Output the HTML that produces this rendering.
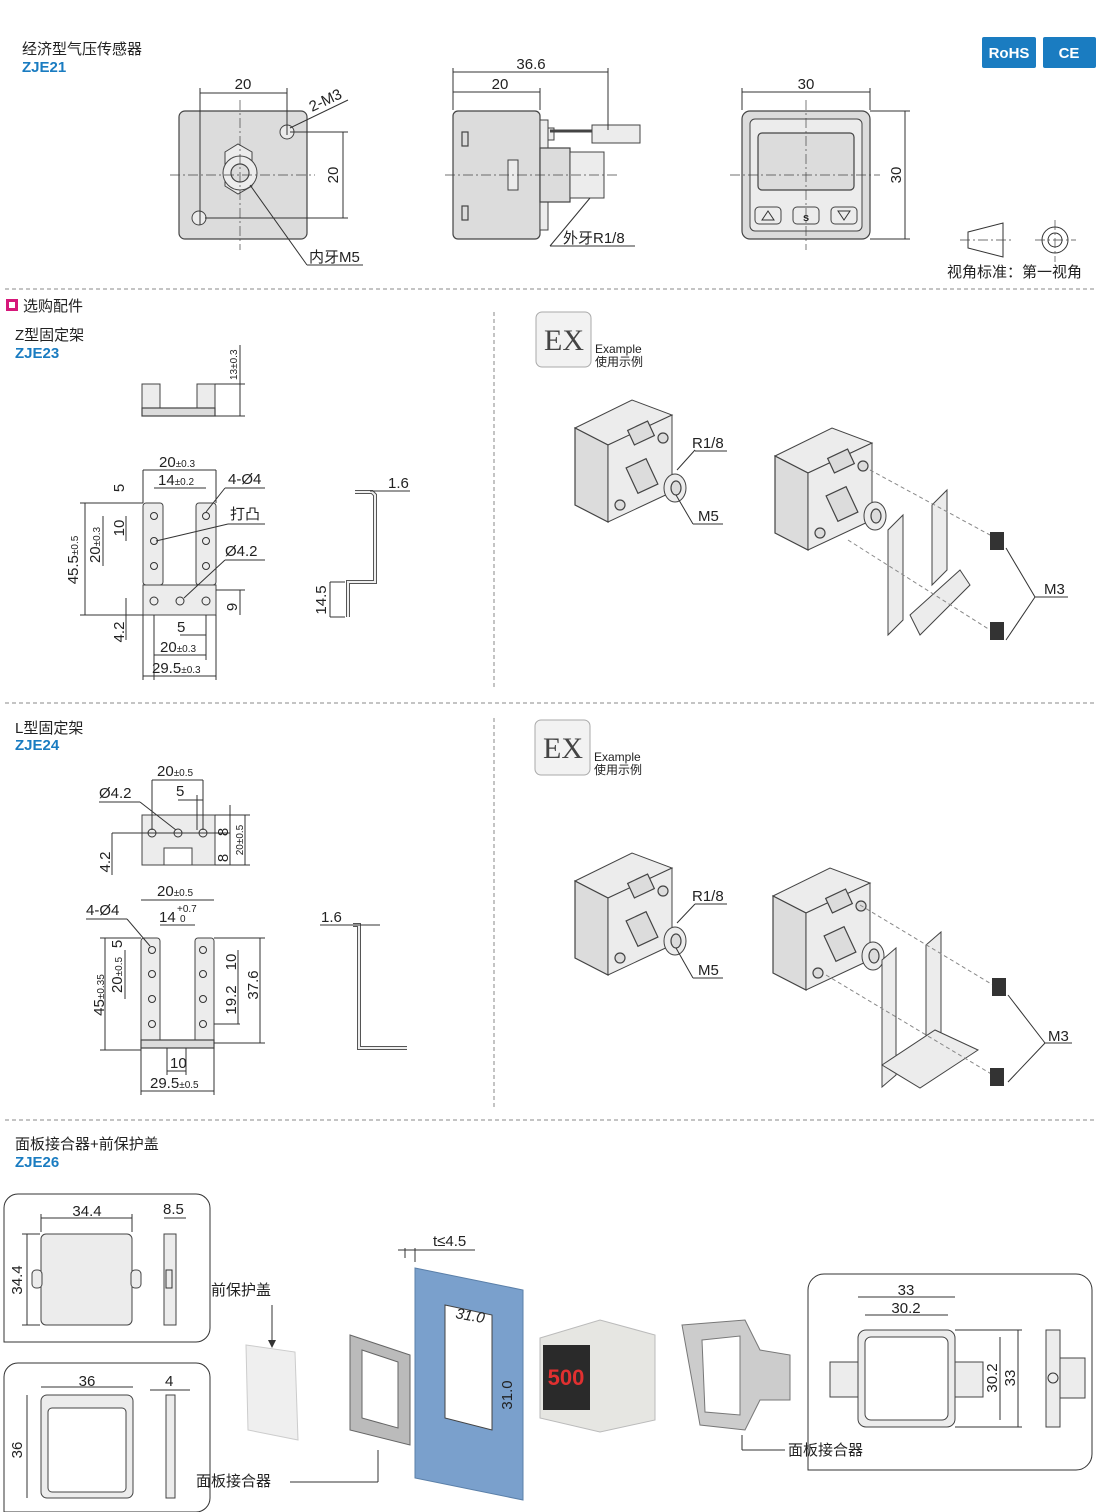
<!DOCTYPE html>
<html><head><meta charset="utf-8"><style>
html,body{margin:0;padding:0;background:#fff}
svg{display:block}
text{font-family:"Liberation Sans","Noto Sans CJK SC",sans-serif;fill:#222}
.t{font-size:15px}.s{font-size:10px}.b{fill:#1a7cc1;font-weight:bold;font-size:15px}
.l{stroke:#333;stroke-width:1;fill:none}
.c{stroke:#444;stroke-width:.7;fill:none;stroke-dasharray:10 3 2 3}
.d{stroke:#888;stroke-width:1;fill:none;stroke-dasharray:4 3}
.g{fill:#dcdcdc;stroke:#444;stroke-width:1.2}
.g2{fill:#ececec;stroke:#444;stroke-width:1}
</style></head><body>
<svg width="1110" height="1512" viewBox="0 0 1110 1512" xmlns="http://www.w3.org/2000/svg">
<defs>
<g id="dev">
<polygon class="g2" points="0,28 57,0 97,15 33,45"/>
<polygon class="g" points="0,28 33,45 33,122 0,105"/>
<polygon class="g2" points="33,45 97,15 97,92 33,122"/>
<rect x="56" y="62" width="22" height="28" class="g" transform="rotate(-25 67 76)"/>
<ellipse cx="100" cy="88" rx="11" ry="14" class="g2"/>
<ellipse cx="101" cy="88" rx="5" ry="7" class="g"/>
<circle cx="88" cy="38" r="5" class="g"/><circle cx="45" cy="105" r="5" class="g"/>
<rect x="55" y="25" width="22" height="16" class="g" transform="rotate(-25 66 33)"/>
</g>
</defs>

<!-- header -->
<text x="22" y="54" class="t">经济型气压传感器</text>
<text x="22" y="72" class="b">ZJE21</text>
<rect x="982" y="37" width="54" height="31" fill="#1a7cc1" rx="2"/><text x="1009" y="58" text-anchor="middle" style="fill:#fff;font-weight:bold;font-size:15px">RoHS</text>
<rect x="1043" y="37" width="53" height="31" fill="#1a7cc1" rx="2"/><text x="1069" y="58" text-anchor="middle" style="fill:#fff;font-weight:bold;font-size:15px">CE</text>

<!-- view 1 -->
<rect x="179" y="111" width="128" height="128" rx="6" class="g"/>
<polygon points="225,155 238,147 252,155 252,189 238,197 225,189" transform="translate(0,-3)" class="g2"/>
<circle cx="240" cy="173" r="17" class="g2"/><circle cx="240" cy="173" r="9" class="g"/>
<circle cx="287" cy="132" r="7" class="g2"/><circle cx="199" cy="218" r="7" class="g2"/>
<line x1="170" y1="175" x2="315" y2="175" class="c"/><line x1="240" y1="100" x2="240" y2="250" class="c"/>
<line x1="200" y1="88" x2="200" y2="225" class="l"/><line x1="287" y1="88" x2="287" y2="135" class="l"/>
<line x1="200" y1="93" x2="287" y2="93" class="l"/><text x="243" y="89" text-anchor="middle" class="t">20</text>
<line x1="290" y1="132" x2="348" y2="132" class="l"/><line x1="205" y1="218" x2="348" y2="218" class="l"/>
<line x1="343" y1="132" x2="343" y2="218" class="l"/><text x="338" y="175" class="t" transform="rotate(-90 338 175)" text-anchor="middle">20</text>
<line x1="290" y1="128" x2="348" y2="100" class="l"/><text x="312" y="112" class="t" transform="rotate(-25 312 112)">2-M3</text>
<line x1="250" y1="185" x2="307" y2="265" class="l"/><line x1="307" y1="265" x2="363" y2="265" class="l"/><text x="309" y="262" class="t">内牙M5</text>

<!-- view 2 -->
<rect x="453" y="111" width="87" height="128" rx="5" class="g"/>
<rect x="540" y="120" width="8" height="110" class="g2"/>
<rect x="548" y="128" width="6" height="12" class="g2"/>
<rect x="540" y="148" width="30" height="54" class="g"/>
<rect x="570" y="152" width="34" height="46" class="g2"/>
<line x1="550" y1="131" x2="592" y2="131" stroke="#444" stroke-width="3"/>
<rect x="592" y="125" width="48" height="18" class="g2"/>
<rect x="508" y="160" width="10" height="30" class="g2"/>
<rect x="462" y="132" width="6" height="14" class="g"/><rect x="462" y="206" width="6" height="14" class="g"/>
<line x1="445" y1="175" x2="620" y2="175" class="c"/>
<line x1="453" y1="68" x2="453" y2="110" class="l"/><line x1="540" y1="88" x2="540" y2="110" class="l"/><line x1="608" y1="68" x2="608" y2="130" class="l"/>
<line x1="453" y1="72" x2="608" y2="72" class="l"/><text x="531" y="69" text-anchor="middle" class="t">36.6</text>
<line x1="453" y1="92" x2="540" y2="92" class="l"/><text x="500" y="89" text-anchor="middle" class="t">20</text>
<line x1="590" y1="198" x2="550" y2="246" class="l"/><line x1="550" y1="246" x2="635" y2="246" class="l"/><text x="563" y="243" class="t">外牙R1/8</text>

<!-- view 3 -->
<rect x="742" y="111" width="128" height="128" rx="8" class="g"/>
<rect x="750" y="119" width="112" height="112" rx="5" class="g2"/>
<rect x="758" y="133" width="96" height="57" rx="4" class="g"/>
<rect x="755" y="207" width="26" height="17" rx="4" class="g2"/><polygon points="762,220 768,211 774,220" class="l"/>
<rect x="793" y="207" width="26" height="17" rx="4" class="g2"/><text x="806" y="221" text-anchor="middle" style="font-size:11px;font-weight:bold">s</text>
<rect x="831" y="207" width="26" height="17" rx="4" class="g2"/><polygon points="838,211 850,211 844,220" class="l"/>
<line x1="730" y1="175" x2="880" y2="175" class="c"/><line x1="806" y1="100" x2="806" y2="250" class="c"/>
<line x1="742" y1="88" x2="742" y2="110" class="l"/><line x1="870" y1="88" x2="870" y2="110" class="l"/>
<line x1="742" y1="92" x2="870" y2="92" class="l"/><text x="806" y="89" text-anchor="middle" class="t">30</text>
<line x1="870" y1="111" x2="910" y2="111" class="l"/><line x1="870" y1="239" x2="910" y2="239" class="l"/>
<line x1="905" y1="111" x2="905" y2="239" class="l"/><text x="901" y="175" class="t" transform="rotate(-90 901 175)" text-anchor="middle">30</text>
<polygon points="968,232 1003,223 1003,257 968,248" class="l"/><line x1="960" y1="240" x2="1012" y2="240" class="c"/>
<circle cx="1055" cy="240" r="13" class="l"/><circle cx="1055" cy="240" r="7" class="l"/><line x1="1035" y1="240" x2="1076" y2="240" class="c"/><line x1="1055" y1="220" x2="1055" y2="262" class="c"/>
<text x="947" y="277" class="t">视角标准：第一视角</text>

<line x1="5" y1="289" x2="1095" y2="289" class="d"/>
<rect x="6" y="299" width="12" height="12" fill="#d6177a"/><rect x="9" y="302" width="6" height="6" fill="#fff"/>
<text x="23" y="311" class="t">选购配件</text>

<!-- Z bracket -->
<text x="15" y="340" class="t">Z型固定架</text><text x="15" y="358" class="b">ZJE23</text>
<rect x="142" y="384" width="18" height="32" class="g2"/><rect x="197" y="384" width="18" height="32" class="g2"/>
<rect x="142" y="408" width="73" height="8" class="g"/>
<line x1="215" y1="384" x2="245" y2="384" class="l"/><line x1="215" y1="416" x2="245" y2="416" class="l"/><line x1="240" y1="345" x2="240" y2="416" class="l"/>
<text x="237" y="380" class="s" transform="rotate(-90 237 380)">13±0.3</text>
<rect x="143" y="503" width="20" height="82" rx="3" class="g2"/><rect x="196" y="503" width="20" height="82" rx="3" class="g2"/>
<rect x="143" y="585" width="73" height="30" class="g2"/>
<g class="l"><circle cx="154" cy="516" r="3.5"/><circle cx="154" cy="541" r="3.5"/><circle cx="154" cy="566" r="3.5"/><circle cx="206" cy="516" r="3.5"/><circle cx="206" cy="541" r="3.5"/><circle cx="206" cy="566" r="3.5"/><circle cx="154" cy="601" r="4"/><circle cx="180" cy="601" r="4"/><circle cx="206" cy="601" r="4"/></g>
<line x1="143" y1="470" x2="143" y2="503" class="l"/><line x1="216" y1="470" x2="216" y2="503" class="l"/>
<line x1="143" y1="470" x2="216" y2="470" class="l"/><text x="159" y="467" class="t">20<tspan class="s">±0.3</tspan></text>
<line x1="154" y1="488" x2="206" y2="488" class="l"/><text x="158" y="485" class="t">14<tspan class="s">±0.2</tspan></text>
<text x="228" y="484" class="t">4-Ø4</text><text x="230" y="519" class="t">打凸</text><text x="225" y="556" class="t">Ø4.2</text>
<line x1="225" y1="488" x2="265" y2="488" class="l"/><line x1="225" y1="488" x2="206" y2="512" class="l"/>
<line x1="228" y1="524" x2="265" y2="524" class="l"/><line x1="228" y1="524" x2="156" y2="541" class="l"/>
<line x1="225" y1="560" x2="265" y2="560" class="l"/><line x1="225" y1="560" x2="184" y2="598" class="l"/>
<line x1="80" y1="503" x2="143" y2="503" class="l"/><line x1="80" y1="615" x2="143" y2="615" class="l"/>
<line x1="85" y1="503" x2="85" y2="615" class="l"/><text x="78" y="560" class="t" transform="rotate(-90 78 560)" text-anchor="middle">45.5<tspan class="s">±0.5</tspan></text>
<line x1="103" y1="516" x2="103" y2="566" class="l"/><text x="100" y="545" class="t" transform="rotate(-90 100 545)" text-anchor="middle">20<tspan class="s">±0.3</tspan></text>
<line x1="126" y1="516" x2="126" y2="541" class="l"/><text x="124" y="528" class="t" transform="rotate(-90 124 528)" text-anchor="middle">10</text>
<text x="124" y="488" class="t" transform="rotate(-90 124 488)" text-anchor="middle">5</text>
<line x1="126" y1="598" x2="126" y2="640" class="l"/><text x="124" y="632" class="t" transform="rotate(-90 124 632)" text-anchor="middle">4.2</text>
<line x1="216" y1="590" x2="245" y2="590" class="l"/><line x1="240" y1="590" x2="240" y2="615" class="l"/><text x="237" y="607" class="t" transform="rotate(-90 237 607)" text-anchor="middle">9</text>
<line x1="154" y1="615" x2="154" y2="680" class="l"/><line x1="206" y1="615" x2="206" y2="660" class="l"/><line x1="143" y1="615" x2="143" y2="680" class="l"/><line x1="216" y1="615" x2="216" y2="680" class="l"/>
<line x1="180" y1="635" x2="206" y2="635" class="l"/><text x="177" y="632" class="t">5</text>
<line x1="154" y1="655" x2="206" y2="655" class="l"/><text x="160" y="652" class="t">20<tspan class="s">±0.3</tspan></text>
<line x1="143" y1="676" x2="216" y2="676" class="l"/><text x="152" y="673" class="t">29.5<tspan class="s">±0.3</tspan></text>
<polyline points="355,492 372,492 375,495 375,582 348,582 348,617" fill="none" stroke="#555" stroke-width="4"/>
<polyline points="355,492 372,492 375,495 375,582 348,582 348,617" fill="none" stroke="#eee" stroke-width="2"/>
<line x1="370" y1="491" x2="410" y2="491" class="l"/><text x="388" y="488" class="t">1.6</text>
<line x1="330" y1="582" x2="345" y2="582" class="l"/><line x1="330" y1="617" x2="345" y2="617" class="l"/><line x1="330" y1="582" x2="330" y2="617" class="l"/>
<text x="326" y="600" class="t" transform="rotate(-90 326 600)" text-anchor="middle">14.5</text>
<line x1="494" y1="312" x2="494" y2="688" class="d"/>

<!-- EX 1 -->
<rect x="536" y="312" width="55" height="55" rx="6" fill="#f2f2f2" stroke="#aaa"/>
<text x="564" y="350" text-anchor="middle" style="font-family:'Liberation Serif',serif;font-size:30px;fill:#444">EX</text>
<text x="595" y="353" style="font-size:12px">Example</text><text x="595" y="366" style="font-size:12px">使用示例</text>
<use href="#dev" x="575" y="400"/>
<line x1="677" y1="470" x2="695" y2="450" class="l"/><line x1="695" y1="451" x2="727" y2="451" class="l"/><text x="692" y="448" class="t">R1/8</text>
<line x1="676" y1="495" x2="693" y2="524" class="l"/><line x1="693" y1="524" x2="723" y2="524" class="l"/><text x="698" y="521" class="t">M5</text>
<use href="#dev" x="775" y="428"/>
<polygon points="888,530 903,515 903,620 888,635" class="g2"/>
<polygon points="932,505 947,490 947,570 932,585" class="g2"/>
<polygon points="910,615 960,570 970,585 920,635" class="g2"/>
<line x1="870" y1="470" x2="990" y2="535" class="d"/><line x1="848" y1="540" x2="990" y2="630" class="d"/>
<rect x="990" y="532" width="14" height="18" fill="#333"/><rect x="990" y="622" width="14" height="18" fill="#333"/>
<line x1="1035" y1="597" x2="1006" y2="548" class="l"/><line x1="1035" y1="597" x2="1006" y2="640" class="l"/><line x1="1035" y1="597" x2="1068" y2="597" class="l"/><text x="1044" y="594" class="t">M3</text>

<line x1="5" y1="703" x2="1095" y2="703" class="d"/>

<!-- L bracket -->
<text x="15" y="733" class="t">L型固定架</text><text x="15" y="750" class="b">ZJE24</text>
<rect x="142" y="815" width="73" height="50" class="g2"/>
<rect x="164" y="848" width="28" height="17" fill="#fff" stroke="#444"/>
<g class="l"><circle cx="152" cy="833" r="4"/><circle cx="178" cy="833" r="4"/><circle cx="203" cy="833" r="4"/></g>
<line x1="112" y1="833" x2="230" y2="833" class="l"/>
<text x="157" y="776" class="t">20<tspan class="s">±0.5</tspan></text><line x1="152" y1="780" x2="203" y2="780" class="l"/>
<text x="176" y="796" class="t">5</text><line x1="178" y1="800" x2="203" y2="800" class="l"/>
<line x1="152" y1="780" x2="152" y2="830" class="l"/><line x1="203" y1="780" x2="203" y2="830" class="l"/><line x1="197" y1="795" x2="197" y2="830" class="l"/>
<text x="99" y="798" class="t">Ø4.2</text><line x1="99" y1="802" x2="140" y2="802" class="l"/><line x1="140" y1="802" x2="176" y2="830" class="l"/>
<line x1="215" y1="815" x2="250" y2="815" class="l"/><line x1="215" y1="865" x2="250" y2="865" class="l"/><line x1="245" y1="815" x2="245" y2="865" class="l"/><line x1="230" y1="805" x2="230" y2="865" class="l"/>
<text x="228" y="832" class="t" transform="rotate(-90 228 832)" text-anchor="middle">8</text><text x="228" y="858" class="t" transform="rotate(-90 228 858)" text-anchor="middle">8</text>
<text x="243" y="840" class="s" transform="rotate(-90 243 840)" text-anchor="middle">20±0.5</text>
<line x1="112" y1="833" x2="112" y2="875" class="l"/><text x="110" y="862" class="t" transform="rotate(-90 110 862)" text-anchor="middle">4.2</text>
<rect x="141" y="938" width="19" height="105" rx="3" class="g2"/><rect x="195" y="938" width="19" height="105" rx="3" class="g2"/>
<rect x="141" y="1040" width="73" height="8" class="g"/>
<g class="l"><circle cx="152" cy="950" r="3.5"/><circle cx="152" cy="974" r="3.5"/><circle cx="152" cy="999" r="3.5"/><circle cx="152" cy="1024" r="3.5"/><circle cx="203" cy="950" r="3.5"/><circle cx="203" cy="974" r="3.5"/><circle cx="203" cy="999" r="3.5"/><circle cx="203" cy="1024" r="3.5"/></g>
<text x="157" y="896" class="t">20<tspan class="s">±0.5</tspan></text><line x1="141" y1="900" x2="214" y2="900" class="l"/>
<text x="159" y="922" class="t">14</text><text x="177" y="912" class="s">+0.7</text><text x="180" y="922" class="s">0</text><line x1="160" y1="925" x2="195" y2="925" class="l"/>
<text x="86" y="915" class="t">4-Ø4</text><line x1="86" y1="919" x2="127" y2="919" class="l"/><line x1="127" y1="919" x2="150" y2="946" class="l"/>
<line x1="100" y1="938" x2="141" y2="938" class="l"/><line x1="100" y1="1050" x2="141" y2="1050" class="l"/><line x1="105" y1="938" x2="105" y2="1050" class="l"/>
<text x="104" y="995" class="t" transform="rotate(-90 104 995)" text-anchor="middle">45<tspan class="s">±0.35</tspan></text>
<line x1="125" y1="950" x2="125" y2="999" class="l"/><text x="122" y="975" class="t" transform="rotate(-90 122 975)" text-anchor="middle">20<tspan class="s">±0.5</tspan></text>
<text x="122" y="944" class="t" transform="rotate(-90 122 944)" text-anchor="middle">5</text>
<line x1="214" y1="938" x2="265" y2="938" class="l"/><line x1="214" y1="1024" x2="240" y2="1024" class="l"/><line x1="214" y1="1043" x2="265" y2="1043" class="l"/>
<line x1="238" y1="950" x2="238" y2="1024" class="l"/><line x1="260" y1="938" x2="260" y2="1043" class="l"/>
<text x="236" y="962" class="t" transform="rotate(-90 236 962)" text-anchor="middle">10</text>
<text x="236" y="1000" class="t" transform="rotate(-90 236 1000)" text-anchor="middle">19.2</text>
<text x="258" y="985" class="t" transform="rotate(-90 258 985)" text-anchor="middle">37.6</text>
<line x1="167" y1="1048" x2="167" y2="1075" class="l"/><line x1="186" y1="1048" x2="186" y2="1075" class="l"/><line x1="167" y1="1071" x2="186" y2="1071" class="l"/><text x="170" y="1068" class="t">10</text>
<line x1="141" y1="1048" x2="141" y2="1095" class="l"/><line x1="214" y1="1048" x2="214" y2="1095" class="l"/><line x1="141" y1="1091" x2="214" y2="1091" class="l"/><text x="150" y="1088" class="t">29.5<tspan class="s">±0.5</tspan></text>
<polyline points="353,925 359,925 359,1048 407,1048" fill="none" stroke="#555" stroke-width="4"/>
<polyline points="353,925 359,925 359,1048 407,1048" fill="none" stroke="#eee" stroke-width="2"/>
<line x1="320" y1="925" x2="380" y2="925" class="l"/><text x="321" y="922" class="t">1.6</text>
<line x1="494" y1="718" x2="494" y2="1108" class="d"/>

<!-- EX 2 -->
<rect x="535" y="720" width="55" height="55" rx="6" fill="#f2f2f2" stroke="#aaa"/>
<text x="563" y="758" text-anchor="middle" style="font-family:'Liberation Serif',serif;font-size:30px;fill:#444">EX</text>
<text x="594" y="761" style="font-size:12px">Example</text><text x="594" y="774" style="font-size:12px">使用示例</text>
<use href="#dev" x="575" y="853"/>
<line x1="677" y1="923" x2="695" y2="904" class="l"/><line x1="695" y1="904" x2="727" y2="904" class="l"/><text x="692" y="901" class="t">R1/8</text>
<line x1="676" y1="948" x2="693" y2="978" class="l"/><line x1="693" y1="978" x2="723" y2="978" class="l"/><text x="698" y="975" class="t">M5</text>
<use href="#dev" x="773" y="868"/>
<polygon points="882,960 896,948 896,1075 882,1087" class="g2"/>
<polygon points="926,945 941,932 941,1045 926,1058" class="g2"/>
<polygon points="882,1065 935,1030 978,1050 920,1088" class="g2"/>
<line x1="860" y1="905" x2="993" y2="985" class="d"/><line x1="826" y1="975" x2="993" y2="1075" class="d"/>
<rect x="992" y="978" width="14" height="18" fill="#333"/><rect x="990" y="1068" width="14" height="18" fill="#333"/>
<line x1="1045" y1="1043" x2="1008" y2="995" class="l"/><line x1="1045" y1="1043" x2="1008" y2="1082" class="l"/><line x1="1045" y1="1043" x2="1072" y2="1043" class="l"/><text x="1048" y="1041" class="t">M3</text>

<line x1="5" y1="1120" x2="1095" y2="1120" class="d"/>

<!-- bottom -->
<text x="15" y="1149" class="t">面板接合器+前保护盖</text><text x="15" y="1167" class="b">ZJE26</text>
<path d="M4,1208 a14,14 0 0 1 14,-14 H196 a14,14 0 0 1 14,14 V1328 a14,14 0 0 1 -14,14 H4 Z" class="l"/>
<rect x="41" y="1234" width="91" height="91" rx="5" class="g2"/>
<rect x="32" y="1270" width="10" height="18" rx="4" class="g2"/><rect x="131" y="1270" width="10" height="18" rx="4" class="g2"/>
<line x1="41" y1="1214" x2="41" y2="1232" class="l"/><line x1="132" y1="1214" x2="132" y2="1232" class="l"/><line x1="41" y1="1218" x2="132" y2="1218" class="l"/><text x="87" y="1216" text-anchor="middle" class="t">34.4</text>
<line x1="22" y1="1234" x2="40" y2="1234" class="l"/><line x1="22" y1="1325" x2="40" y2="1325" class="l"/><line x1="27" y1="1234" x2="27" y2="1325" class="l"/><text x="22" y="1280" class="t" transform="rotate(-90 22 1280)" text-anchor="middle">34.4</text>
<rect x="164" y="1234" width="12" height="91" class="g2"/><rect x="166" y="1270" width="6" height="18" class="l"/>
<line x1="164" y1="1218" x2="186" y2="1218" class="l"/><text x="163" y="1214" class="t">8.5</text>
<path d="M4,1377 a14,14 0 0 1 14,-14 H196 a14,14 0 0 1 14,14 V1498 a14,14 0 0 1 -14,14 H4 Z" class="l"/>
<rect x="41" y="1395" width="92" height="103" rx="6" class="g2"/><rect x="48" y="1408" width="78" height="84" rx="4" fill="#fff" stroke="#444"/>
<line x1="41" y1="1387" x2="133" y2="1387" class="l"/><text x="87" y="1386" text-anchor="middle" class="t">36</text>
<line x1="27" y1="1395" x2="27" y2="1498" class="l"/><text x="22" y="1450" class="t" transform="rotate(-90 22 1450)" text-anchor="middle">36</text>
<rect x="166" y="1395" width="9" height="103" class="g2"/><line x1="150" y1="1390" x2="190" y2="1390" class="l"/><text x="165" y="1386" class="t">4</text>
<text x="211" y="1295" class="t">前保护盖</text>
<line x1="272" y1="1305" x2="272" y2="1345" class="l"/><polygon points="268,1340 276,1340 272,1348" fill="#333"/>
<polygon points="246,1345 295,1352 298,1440 248,1430" fill="#efefef" stroke="#ccc"/>
<text x="196" y="1486" class="t">面板接合器</text>
<line x1="290" y1="1482" x2="378" y2="1482" class="l"/><line x1="378" y1="1482" x2="378" y2="1450" class="l"/>
<polygon points="350,1335 410,1355 410,1445 350,1430" fill="#bbb" stroke="#666"/>
<polygon points="362,1350 398,1362 398,1428 362,1418" fill="#fff" stroke="#666"/>
<polygon points="415,1268 523,1290 523,1500 415,1478" fill="#7aa0cc" stroke="#5a7fa8"/>
<polygon points="445,1305 492,1315 492,1430 445,1418" fill="#fff" stroke="#444"/>
<line x1="405" y1="1248" x2="405" y2="1258" class="l"/><line x1="415" y1="1248" x2="415" y2="1262" class="l"/><line x1="398" y1="1250" x2="475" y2="1250" class="l"/><text x="433" y="1246" class="t">t≤4.5</text>
<text x="455" y="1318" class="t" transform="rotate(10 455 1318)" style="font-style:italic">31.0</text>
<text x="512" y="1395" class="t" transform="rotate(-90 512 1395)" text-anchor="middle">31.0</text>
<polygon points="540,1338 600,1320 655,1335 655,1420 600,1432 540,1418" fill="#e6e6e2" stroke="#bbb"/>
<rect x="543" y="1345" width="47" height="65" fill="#2a2a2a"/><text x="566" y="1385" text-anchor="middle" style="fill:#e03030;font-size:22px;font-weight:bold">500</text>
<polygon points="682,1325 745,1320 760,1350 790,1355 790,1400 760,1400 745,1430 700,1425" fill="#ccc" stroke="#777"/>
<polygon points="702,1340 740,1336 740,1415 705,1412" fill="#fff" stroke="#777"/>
<line x1="742" y1="1435" x2="742" y2="1450" class="l"/><line x1="742" y1="1450" x2="785" y2="1450" class="l"/><text x="788" y="1455" class="t">面板接合器</text>
<path d="M808,1290 a16,16 0 0 1 16,-16 H1076 a16,16 0 0 1 16,16 V1454 a16,16 0 0 1 -16,16 H808 Z" class="l"/>
<rect x="858" y="1330" width="97" height="97" rx="8" class="g2"/><rect x="865" y="1337" width="83" height="83" rx="6" fill="#fff" stroke="#444"/>
<rect x="830" y="1362" width="28" height="35" class="g2"/><rect x="955" y="1362" width="28" height="35" class="g2"/>
<line x1="858" y1="1297" x2="955" y2="1297" class="l"/><text x="906" y="1295" text-anchor="middle" class="t">33</text>
<line x1="865" y1="1315" x2="948" y2="1315" class="l"/><text x="906" y="1313" text-anchor="middle" class="t">30.2</text>
<line x1="955" y1="1330" x2="1022" y2="1330" class="l"/><line x1="955" y1="1427" x2="1022" y2="1427" class="l"/>
<line x1="1000" y1="1337" x2="1000" y2="1420" class="l"/><line x1="1018" y1="1330" x2="1018" y2="1427" class="l"/>
<text x="997" y="1378" class="t" transform="rotate(-90 997 1378)" text-anchor="middle">30.2</text>
<text x="1015" y="1378" class="t" transform="rotate(-90 1015 1378)" text-anchor="middle">33</text>
<rect x="1046" y="1330" width="14" height="97" class="g2"/><rect x="1060" y="1358" width="25" height="40" class="g2"/><circle cx="1053" cy="1378" r="5" class="l"/>
</svg>
</body></html>
